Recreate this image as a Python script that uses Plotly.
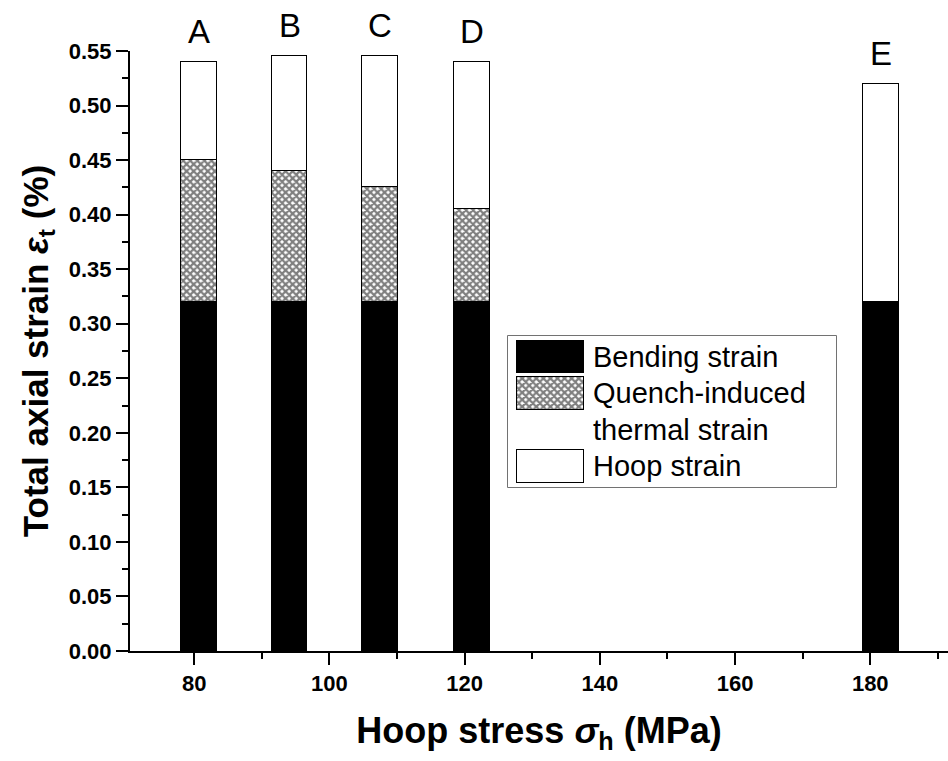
import plotly.graph_objects as go

# Hoop stress of each case (MPa) and the three strain components (%)
cases = ["A", "B", "C", "D", "E"]
hoop_stress = [80.7, 94.1, 107.5, 121.1, 181.6]
bending_strain = [0.32, 0.32, 0.32, 0.32, 0.32]
quench_strain = [0.13, 0.12, 0.105, 0.085, 0.0]
hoop_strain = [0.09, 0.105, 0.12, 0.135, 0.20]

series_names = ["Bending strain", "Quench-induced<br>thermal strain", "Hoop strain"]

FONT = "Liberation Sans, Arial, sans-serif"
W, H = 948, 761
L, R, T, B = 130, 0, 51, 110
PW, PH = W - L - R, H - T - B

BAR_W = 5.3
OUTLINE = dict(color="black", width=1.5)
styles = [
    dict(color="black", line=OUTLINE),
    dict(color="white", line=OUTLINE,
         pattern=dict(shape="x", fgcolor="black", bgcolor="white", size=5, solidity=0.7)),
    dict(color="white", line=OUTLINE),
]


def px_x(p):
    return (p - L) / PW


def px_y(p):
    return (H - B - p) / PH


fig = go.Figure()

for values, name, style in zip([bending_strain, quench_strain, hoop_strain], series_names, styles):
    fig.add_trace(go.Bar(x=hoop_stress, y=values, width=BAR_W, name=name,
                         marker=style, showlegend=False))

totals = [b + q + h for b, q, h in zip(bending_strain, quench_strain, hoop_strain)]
for label, xv, tv in zip(cases, hoop_stress, totals):
    fig.add_annotation(x=xv, y=tv, text=label, showarrow=False, yanchor="bottom",
                       yshift=10, font=dict(family=FONT, size=33, color="black"))

# Legend box with its own small axes for the swatches
box = (508, 336, 836, 487)  # left, top, right, bottom in pixels
fig.add_shape(type="rect", xref="paper", yref="paper",
              x0=px_x(box[0]), x1=px_x(box[2]), y0=px_y(box[3]), y1=px_y(box[1]),
              line=dict(color="#444", width=1.5), fillcolor="white", layer="below")

box_w, box_h = box[2] - box[0], box[3] - box[1]
swatch_center = 42.5
swatch_w = 67
swatch_rows = [(113.7, 32.6), (77.0, 33.0), (4.0, 33.0)]  # base, height from box bottom
for (base, height), style in zip(swatch_rows, styles):
    fig.add_trace(go.Bar(x=[swatch_center], y=[height], base=[base], width=swatch_w,
                         marker=style, xaxis="x2", yaxis="y2", showlegend=False,
                         hoverinfo="skip"))

legend_text = [("Bending strain", 357), ("Quench-induced", 393),
               ("thermal strain", 430), ("Hoop strain", 466)]
for txt, yc in legend_text:
    fig.add_annotation(xref="paper", yref="paper", x=px_x(591), y=px_y(yc), text=txt,
                       showarrow=False, xanchor="left", yanchor="middle",
                       font=dict(family=FONT, size=29, color="black"))

axis_common = dict(
    showline=True, linecolor="black", linewidth=2, ticks="outside", ticklen=12,
    tickwidth=2, tickcolor="black", showgrid=False, zeroline=False,
    tickfont=dict(family=FONT, size=22, color="black", weight="bold"),
)

fig.update_layout(
    width=W, height=H,
    margin=dict(l=L, r=R, t=T, b=B),
    paper_bgcolor="white", plot_bgcolor="white",
    barmode="stack",
    bargap=0,
    xaxis=dict(
        range=[70.5, 191.5], dtick=20, tick0=0,
        minor=dict(dtick=10, ticks="outside", ticklen=6, tickwidth=2, tickcolor="black"),
        title=dict(text="Hoop stress <i>σ</i><sub>h</sub> (MPa)", standoff=22,
                   font=dict(family=FONT, size=36, color="black", weight="bold")),
        **axis_common,
    ),
    yaxis=dict(
        range=[0, 0.55], dtick=0.05, tick0=0, tickformat=".2f",
        minor=dict(dtick=0.025, ticks="outside", ticklen=6, tickwidth=2, tickcolor="black"),
        title=dict(text="Total axial strain <i>ε</i><sub>t</sub> (%)", standoff=10,
                   font=dict(family=FONT, size=35, color="black", weight="bold")),
        **axis_common,
    ),
    xaxis2=dict(domain=[px_x(box[0]), px_x(box[2])], range=[0, box_w], visible=False,
                anchor="y2", fixedrange=True),
    yaxis2=dict(domain=[px_y(box[3]), px_y(box[1])], range=[0, box_h], visible=False,
                anchor="x2", fixedrange=True),
)

fig.write_html("out.html")
